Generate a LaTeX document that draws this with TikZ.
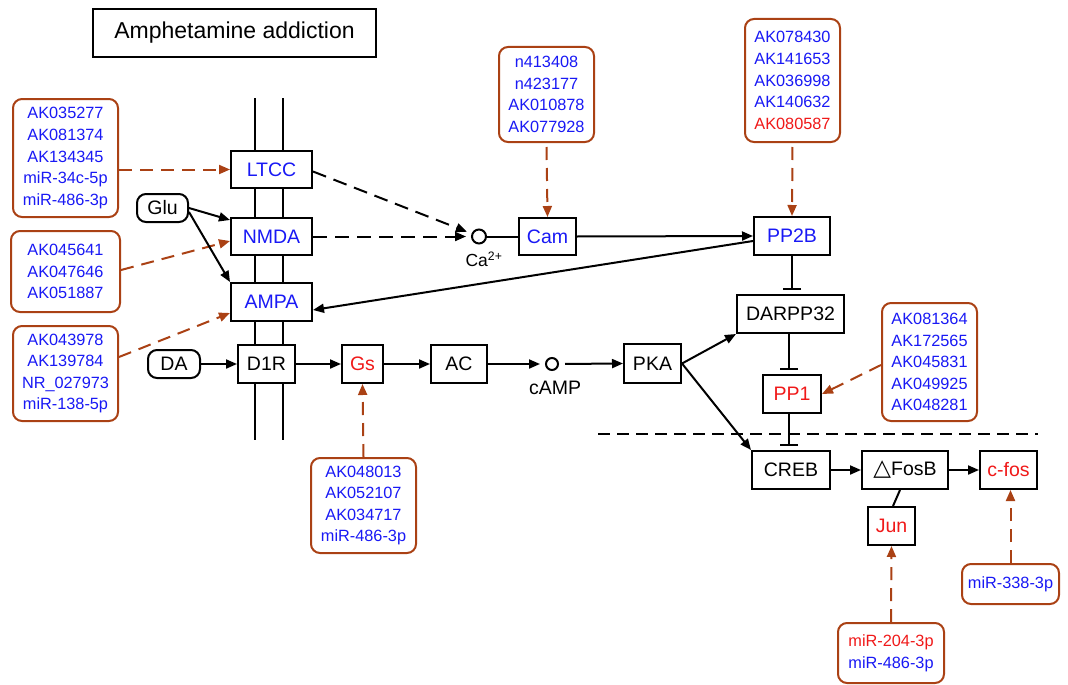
\documentclass[tikz,border=0pt]{standalone}
\usepackage{fontspec}
\setmainfont{Liberation Sans}
\newfontfamily\djv{DejaVu Sans}
\usetikzlibrary{arrows.meta}
\definecolor{tfblue}{RGB}{25,25,245}
\definecolor{tfred}{RGB}{240,25,25}
\definecolor{tfbrown}{RGB}{170,65,20}
\begin{document}
\begin{tikzpicture}[x=1pt,y=-1pt,
  gene/.style={draw,line width=2pt,fill=white,inner sep=0pt,font=\fontsize{19.5}{22}\selectfont},
  pill/.style={gene,rounded corners=9pt},
  tfbox/.style={draw=tfbrown,line width=2pt,fill=white,rounded corners=9pt,inner sep=0pt,align=center,font=\fontsize{16.3}{21.6}\selectfont,text=tfblue},
  act/.style={line width=2pt,-{Triangle[length=11pt,width=9pt]}},
  dact/.style={act,dash pattern=on 14pt off 8pt},
  reg/.style={line width=2pt,draw=tfbrown,dash pattern=on 13pt off 8pt,-{Triangle[length=11pt,width=9pt]},tfbrown},
  inh/.style={line width=2pt,-{Bar[width=18pt,line width=2pt]},shorten >=4pt},
  mol/.style={circle,draw,line width=2pt,fill=white,minimum size=13pt,inner sep=0pt}]
\useasboundingbox (0,0) rectangle (1068,685);
% membrane
\draw[line width=2.2pt] (255,98) -- (255,440);
\draw[line width=2.2pt] (283,98) -- (283,440);
% nucleus separator
\draw[line width=2pt,dash pattern=on 12pt off 7pt] (598,434) -- (1038,434);
% title
\node[gene,minimum width=283pt,minimum height=48pt,font=\fontsize{23}{26}\selectfont] (title) at (234.5,33) {Amphetamine addiction};
% genes
\node[gene,minimum width=81pt,minimum height=37pt,text=tfblue] (LTCC) at (271.5,169.5) {LTCC};
\node[gene,minimum width=81pt,minimum height=37pt,text=tfblue] (NMDA) at (271.5,236.5) {NMDA};
\node[gene,minimum width=81pt,minimum height=38pt,text=tfblue] (AMPA) at (271.5,302) {AMPA};
\node[gene,minimum width=57pt,minimum height=38pt] (D1R) at (266.5,364) {D1R};
\node[pill,minimum width=51pt,minimum height=28pt] (Glu) at (162.5,208) {Glu};
\node[pill,minimum width=52pt,minimum height=28pt] (DA) at (174,364) {DA};
\node[gene,minimum width=41pt,minimum height=38pt,text=tfred] (Gs) at (362.5,364) {Gs};
\node[gene,minimum width=56pt,minimum height=38pt] (AC) at (459,364) {AC};
\node[mol,minimum size=12pt] (camp) at (552,364) {};
\node[font=\fontsize{19.5}{22}\selectfont] (camplab) at (555,388) {cAMP};
\node[gene,minimum width=57pt,minimum height=39pt] (PKA) at (652.5,363.5) {PKA};
\node[gene,minimum width=107pt,minimum height=38pt] (DARPP) at (790.5,314) {DARPP32};
\node[gene,minimum width=58pt,minimum height=38pt,text=tfred] (PP1) at (792,394) {PP1};
\node[gene,minimum width=78pt,minimum height=38pt] (CREB) at (791,470) {CREB};
\node[gene,minimum width=86pt,minimum height=38pt] (FosB) at (905,470) {{\djv\fontsize{23}{22}\selectfont △}FosB};
\node[gene,minimum width=57pt,minimum height=38pt,text=tfred] (cfos) at (1008.5,470) {c-fos};
\node[gene,minimum width=47pt,minimum height=38pt,text=tfred] (Jun) at (891.5,526) {Jun};
\node[gene,minimum width=76pt,minimum height=38pt,text=tfblue] (PP2B) at (792,236) {PP2B};
\node[gene,minimum width=57pt,minimum height=37pt,text=tfblue] (Cam) at (547.5,236.5) {Cam};
\node[mol,minimum size=14pt] (ca) at (479,236.5) {};
\node[font=\fontsize{17.5}{20}\selectfont] (calab) at (484,259) {Ca\textsuperscript{2+}};
% TF boxes
\node[tfbox,minimum width=105pt,minimum height=118pt] (tfLTCC) at (65.5,158) {AK035277\\AK081374\\AK134345\\miR-34c-5p\\miR-486-3p};
\node[tfbox,minimum width=109pt,minimum height=81pt] (tfNMDA) at (65.5,271.5) {AK045641\\AK047646\\AK051887};
\node[tfbox,minimum width=105pt,minimum height=95pt] (tfAMPA) at (65.5,373.5) {AK043978\\AK139784\\NR\_027973\\miR-138-5p};
\node[tfbox,minimum width=95pt,minimum height=95pt] (tfCam) at (546.5,94.5) {n413408\\n423177\\AK010878\\AK077928};
\node[tfbox,minimum width=95pt,minimum height=123pt] (tfPP2B) at (792.5,80.5) {AK078430\\AK141653\\AK036998\\AK140632\\\textcolor{tfred}{AK080587}};
\node[tfbox,minimum width=95pt,minimum height=118pt] (tfPP1) at (929.5,362) {AK081364\\AK172565\\AK045831\\AK049925\\AK048281};
\node[tfbox,minimum width=105pt,minimum height=95pt] (tfGs) at (363.5,505.5) {AK048013\\AK052107\\AK034717\\miR-486-3p};
\node[tfbox,minimum width=106pt,minimum height=60pt] (tfJun) at (891,653) {\textcolor{tfred}{miR-204-3p}\\miR-486-3p};
\node[tfbox,minimum width=97pt,minimum height=40pt] (tfFos) at (1010.5,584) {miR-338-3p};
% regulatory arrows
\draw[reg] (tfLTCC.east |- LTCC.west) -- (LTCC.west);
\draw[reg] ([yshift=1.5pt]tfNMDA.east) -- ([yshift=-4.5pt]NMDA.west);
\draw[reg] ([yshift=16.5pt]tfAMPA.east) -- ([yshift=-11pt]AMPA.west);
\draw[reg,shorten <=4pt] (tfCam.south) -- (Cam.north);
\draw[reg,shorten <=4pt] (tfPP2B.south) -- (PP2B.north);
\draw[reg] ([yshift=-3pt]tfPP1.west) -- (PP1.east);
\draw[reg] (tfGs.north) -- (Gs.south);
\draw[reg] (tfJun.north) -- (Jun.south);
\draw[reg] (tfFos.north) -- (tfFos.north |- cfos.south);
% signalling
\draw[act] (Glu.east) -- ([yshift=-3pt]NMDA.north west);
\draw[act] ([yshift=-4pt]Glu.east) -- (AMPA.north west);
\draw[act] (DA.east) -- (D1R.west);
\draw[act] (D1R.east) -- (Gs.west);
\draw[act] (Gs.east) -- (AC.west);
\draw[act,shorten >=5pt] (AC.east) -- (camp.west);
\draw[act,shorten <=6pt] (camp.east) -- (PKA.west);
\draw[act] (PKA.east) -- (DARPP.south west);
\draw[act] (PKA.east) -- (CREB.north west);
\draw[dact,shorten >=5pt] ([yshift=-2pt]LTCC.east) -- (ca);
\draw[dact,shorten >=5pt] (NMDA.east) -- (ca.west);
\draw[line width=2pt] (ca.east) -- (Cam.west);
\draw[act] (Cam.east) -- (PP2B.west);
\draw[act] ([yshift=-5pt]PP2B.west) -- ([yshift=-8pt]AMPA.east);
\draw[inh] (PP2B.south) -- (PP2B.south |- DARPP.north);
\draw[inh] ([xshift=-1.5pt]DARPP.south) -- ([xshift=-1.5pt]DARPP.south |- PP1.north);
\draw[inh] ([xshift=-3pt]PP1.south) -- ([xshift=-3pt]PP1.south |- CREB.north);
\draw[act] (CREB.east) -- (FosB.west);
\draw[act] (FosB.east) -- (cfos.west);
\draw[line width=2pt] ([xshift=-5pt]FosB.south) -- ([xshift=1.5pt]Jun.north);
\end{tikzpicture}
\end{document}
